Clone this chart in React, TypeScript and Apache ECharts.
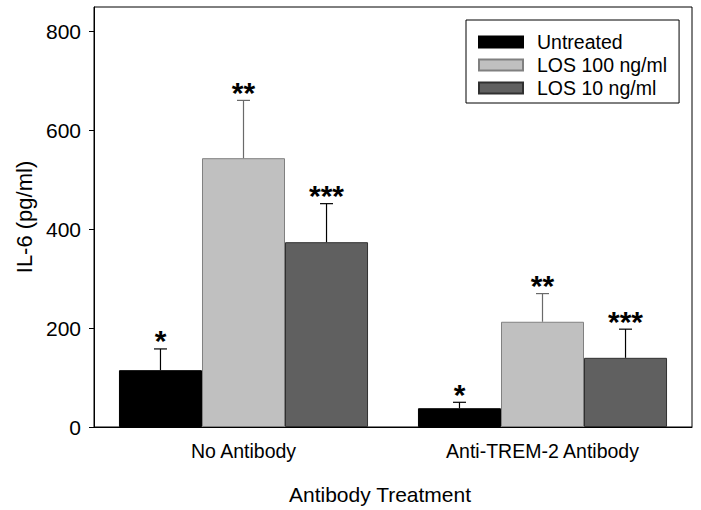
import React, { useEffect, useRef } from "react";
import * as echarts from "echarts";

const categories = ["No Antibody", "Anti-TREM-2 Antibody"];
const seriesNames = ["Untreated", "LOS 100 ng/ml", "LOS 10 ng/ml"];
const untreated = [115, 38];
const los100 = [544, 213];
const los10 = [374, 140];
const untreatedErr = [43, 12];
const los100Err = [117, 57];
const los10Err = [78, 58];
const stars = ["*", "**", "***"];
const yTicks = { min: 0, max: 850, interval: 200 };

const fills = ["#000000", "#C0C0C0", "#606060"];
const borders = ["#000000", "#808080", "#303030"];
const errColors = ["#000000", "#6a6a6a", "#000000"];
const GAP = 0.167;
const FONT = "Arial, 'Liberation Sans', Helvetica, sans-serif";

export default function App() {
  const ref = useRef<HTMLDivElement>(null);
  useEffect(() => {
    if (!ref.current) return;
    const chart = echarts.init(ref.current, null, { renderer: "svg" });
    const values = [untreated, los100, los10];
    const errs = [untreatedErr, los100Err, los10Err];

    const barSeries = values.map((vals, s) => ({
      name: seriesNames[s],
      type: "bar",
      data: vals,
      barGap: "0%",
      barCategoryGap: (GAP * 100).toFixed(1) + "%",
      itemStyle: { color: fills[s], borderColor: borders[s], borderWidth: 1 },
      z: 2,
    }));

    const errSeries = values.map((vals, s) => ({
      name: seriesNames[s] + " err",
      type: "custom",
      data: vals.map((v, i) => [i, v, errs[s][i]]),
      z: 3,
      renderItem: (params: any, api: any) => {
        const idx = api.value(0);
        const v = api.value(1);
        const e = api.value(2);
        const base = api.coord([idx, v]);
        const top = api.coord([idx, v + e]);
        const catW = api.size([1, 0])[0];
        const barW = (catW * (1 - GAP)) / 3;
        const x = base[0] + (s - 1) * barW;
        const style = { stroke: errColors[s], lineWidth: 1.2 };
        return {
          type: "group",
          children: [
            { type: "line", shape: { x1: x, y1: base[1], x2: x, y2: top[1] }, style },
            { type: "line", shape: { x1: x - 6.5, y1: top[1], x2: x + 6.5, y2: top[1] }, style },
            {
              type: "text",
              x: x,
              y: top[1] - 8,
              style: {
                text: stars[s],
                fill: "#000",
                font: "bold 30px " + FONT,
                textAlign: "center",
                textVerticalAlign: "middle",
              },
            },
          ],
        };
      },
    }));

    chart.setOption({
      animation: false,
      textStyle: { fontFamily: FONT },
      grid: {
        left: 94,
        right: 9,
        top: 7,
        bottom: 83,
        show: true,
        borderColor: "#000",
        borderWidth: 1,
      },
      legend: {
        data: seriesNames,
        orient: "vertical",
        left: 466,
        top: 20,
        width: 213,
        padding: [12, 12, 5, 12],
        itemGap: 3,
        itemWidth: 44,
        itemHeight: 11,
        icon: "rect",
        borderColor: "#000",
        borderWidth: 1,
        textStyle: { fontSize: 19.5, color: "#000", fontFamily: FONT, padding: [0, 0, 0, 9] },
      },
      xAxis: {
        type: "category",
        data: categories,
        name: "Antibody Treatment",
        nameLocation: "middle",
        nameGap: 57,
        nameTextStyle: { fontSize: 21, color: "#000", padding: [0, 26, 0, 0] },
        axisLine: { lineStyle: { color: "#000" } },
        axisTick: { show: false },
        axisLabel: { fontSize: 19.5, color: "#000", margin: 14 },
      },
      yAxis: {
        type: "value",
        min: yTicks.min,
        max: yTicks.max,
        interval: yTicks.interval,
        name: "IL-6 (pg/ml)",
        nameLocation: "middle",
        nameGap: 58,
        nameTextStyle: { fontSize: 22, color: "#000" },
        axisLine: { show: true, lineStyle: { color: "#000" } },
        axisTick: { show: true, length: 5, lineStyle: { color: "#000" } },
        axisLabel: {
          fontSize: 21,
          color: "#000",
          margin: 13,
          showMaxLabel: false,
          formatter: (v: number) => (v % yTicks.interval === 0 ? String(v) : ""),
        },
        splitLine: { show: false },
      },
      series: [...barSeries, ...errSeries],
    });
    return () => chart.dispose();
  }, []);
  return <div ref={ref} style={{ width: 701, height: 510, position: "absolute", left: 0, top: 0 }} />;
}
